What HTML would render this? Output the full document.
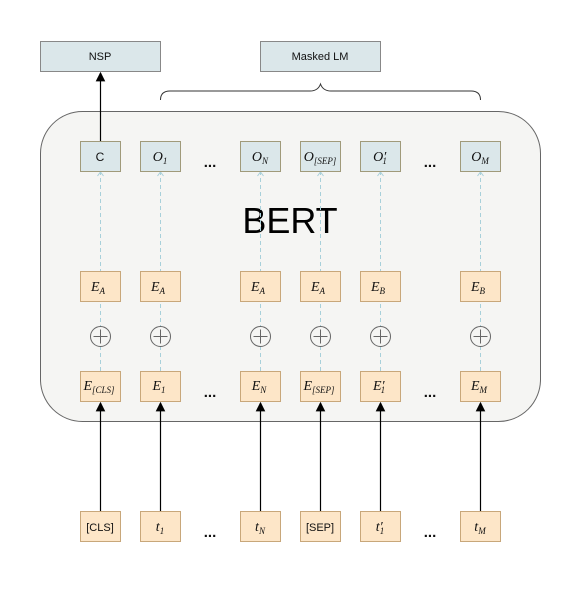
<!DOCTYPE html>
<html><head><meta charset="utf-8"><style>
html,body{margin:0;padding:0;background:#fff;}
svg{display:block;}
.m{font-family:"Liberation Serif",serif;font-style:italic;font-size:14px;fill:#111;}
.s{font-family:"Liberation Serif",serif;font-style:italic;font-size:9px;fill:#111;}
.t{font-family:"Liberation Sans",sans-serif;font-size:11px;fill:#111;}
</style></head><body>
<svg width="580" height="590" viewBox="0 0 580 590" xmlns="http://www.w3.org/2000/svg">
<defs><marker id="ah" markerWidth="8" markerHeight="8" refX="7" refY="4" orient="auto"><path d="M0,0 L8,4 L0,8 z" fill="#000"/></marker></defs>
<rect x="40.5" y="111.5" width="500" height="310" rx="42" fill="#f5f5f3" stroke="#666"/>
<text x="290" y="233" text-anchor="middle" font-family="Liberation Sans,sans-serif" font-size="36" fill="#000">BERT</text>
<g><rect x="40.5" y="41.5" width="120" height="30" fill="#dbe7ea" stroke="#888"/><text class="t" x="100" y="60" text-anchor="middle">NSP</text></g>
<g><rect x="260.5" y="41.5" width="120" height="30" fill="#dbe7ea" stroke="#888"/><text class="t" x="320" y="60" text-anchor="middle">Masked LM</text></g>
<path d="M160.5,100 Q160.5,91 170,91 L310,91 Q318,91 320.5,84 Q323,91 331,91 L471,91 Q480.5,91 480.5,100" fill="none" stroke="#333"/>
<line x1="100.5" y1="141" x2="100.5" y2="73" stroke="#000" stroke-width="1.2" marker-end="url(#ah)"/>
<g id="cols"></g>
<g font-family="Liberation Sans,sans-serif" font-size="15" font-weight="bold" fill="#111" text-anchor="middle">
<text x="210" y="167">...</text>
<text x="430" y="167">...</text>
<text x="210" y="397">...</text>
<text x="430" y="397">...</text>
<text x="210" y="537">...</text>
<text x="430" y="537">...</text>
</g>
</svg>
<script>
const xs=[100,160,260,320,380,480];
const outs=['<tspan class="t" style="font-style:normal;font-size:12px">C</tspan>','O<tspan class="s" dy="3">1</tspan>','O<tspan class="s" dy="3">N</tspan>','O<tspan class="s" dy="3">[SEP]</tspan>','O′<tspan class="s" dy="3" dx="-4">1</tspan>','O<tspan class="s" dy="3">M</tspan>'];
const segs=['A','A','A','A','B','B'];
const toks=['<tspan class="s" style="font-size:14px">E</tspan><tspan class="s" dy="3">[CLS]</tspan>','E<tspan class="s" dy="3">1</tspan>','E<tspan class="s" dy="3">N</tspan>','E<tspan class="s" dy="3">[SEP]</tspan>','E′<tspan class="s" dy="3" dx="-4">1</tspan>','E<tspan class="s" dy="3">M</tspan>'];
const ins=['<tspan class="t" style="font-style:normal">[CLS]</tspan>','t<tspan class="s" dy="3">1</tspan>','t<tspan class="s" dy="3">N</tspan>','<tspan class="t" style="font-style:normal">[SEP]</tspan>','t′<tspan class="s" dy="3" dx="-3">1</tspan>','t<tspan class="s" dy="3">M</tspan>'];
let h='';
xs.forEach((x,i)=>{
 const l=x-19.5;
 h+=`<line x1="${x+.5}" y1="371" x2="${x+.5}" y2="173" stroke="#a8d0da" stroke-dasharray="4,3"/>`;
 h+=`<path d="M${x-2.5},176 L${x+.5},172 L${x+3.5},176" fill="none" stroke="#a8d0da"/>`;
 h+=`<g><rect x="${l}" y="141.5" width="40" height="30" fill="#dbe7ea" stroke="#a09a7a"/><text class="m" x="${x}" y="161" text-anchor="middle">${outs[i]}</text></g>`;
 h+=`<g><rect x="${l}" y="271.5" width="40" height="30" fill="#fde6c8" stroke="#c8a77a"/><text class="m" x="${x-2}" y="291" text-anchor="middle">E<tspan class="s" dy="3">${segs[i]}</tspan></text></g>`;
 h+=`<g><circle cx="${x+.5}" cy="336.5" r="10" fill="#f5f5f3" stroke="#666"/><path d="M${x-6.5},336.5 h14 M${x+.5},329.5 v14" stroke="#666"/></g>`;
 h+=`<g><rect x="${l}" y="371.5" width="40" height="30" fill="#fde6c8" stroke="#c8a77a"/><text class="m" x="${x-1}" y="390" text-anchor="middle">${toks[i]}</text></g>`;
 h+=`<line x1="${x+.5}" y1="511" x2="${x+.5}" y2="403" stroke="#000" stroke-width="1.2" marker-end="url(#ah)"/>`;
 h+=`<g><rect x="${l}" y="511.5" width="40" height="30" fill="#fde6c8" stroke="#c8a77a"/><text class="m" x="${x}" y="531" text-anchor="middle">${ins[i]}</text></g>`;
});
document.getElementById('cols').innerHTML=h;
</script>
</body></html>
